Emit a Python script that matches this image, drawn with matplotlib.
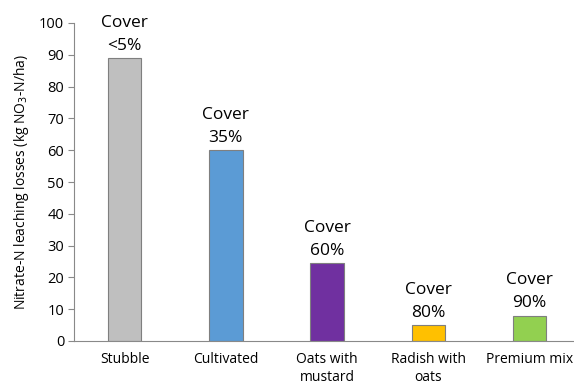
import matplotlib.pyplot as plt

plt.rcParams['font.family'] = ['Open Sans', 'DejaVu Sans']

categories = ['Stubble', 'Cultivated', 'Oats with\nmustard', 'Radish with\noats', 'Premium mix']
losses = [89, 60, 24.5, 5, 8]
cover = ['Cover\n<5%', 'Cover\n35%', 'Cover\n60%', 'Cover\n80%', 'Cover\n90%']
colors = ['#BFBFBF', '#5B9BD5', '#7030A0', '#FFC000', '#92D050']

fig = plt.figure(figsize=(5.74, 3.87), dpi=100)
ax = fig.add_axes([74 / 574, 46 / 387, 500 / 574, 318 / 387])

x = range(len(categories))
bars = ax.bar(x, losses, width=0.33, color=colors, edgecolor='#7f7f7f', linewidth=0.8)

for xi, v, lab in zip(x, losses, cover):
    ax.annotate(lab, (xi, v), xytext=(0, 3), textcoords='offset points',
                ha='center', va='bottom', fontsize=12.5, linespacing=1.6, color='black')

ax.set_xlim(-0.5, 4.44)
ax.set_ylim(0, 100)
ax.set_yticks(range(0, 101, 10))
ax.set_xticks(list(x))
ax.set_xticklabels(categories, fontsize=10, linespacing=1.25)
ax.tick_params(axis='x', length=0, pad=8)
ax.tick_params(axis='y', length=4, color='#898989', labelsize=10.5, pad=3)
ax.set_ylabel('Nitrate-N leaching losses (kg NO$_3$-N/ha)', fontsize=10, labelpad=6)

for s in ['top', 'right']:
    ax.spines[s].set_visible(False)
ax.spines['left'].set_color('#898989')
ax.spines['bottom'].set_color('#898989')

fig.savefig('out.png', dpi=100)
